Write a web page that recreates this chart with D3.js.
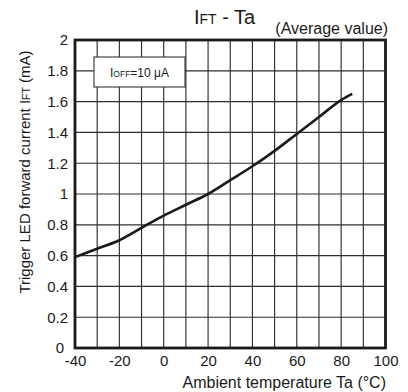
<!DOCTYPE html>
<html>
<head>
<meta charset="utf-8">
<script src="https://cdn.jsdelivr.net/npm/d3@7"></script>
<style>
  html, body { margin: 0; padding: 0; background: #fff; }
  svg { display: block; }
  text { font-family: "Liberation Sans", Arial, sans-serif; fill: #1a1a1a; }
</style>
</head>
<body>
<svg id="chart" width="408" height="392"></svg>
<script>
// Ambient temperature (°C) and average trigger LED forward current (mA)
const temperatures = [-40, -30, -20, -10, 0, 10, 20, 30, 40, 50, 60, 70, 80, 85];
const currents     = [0.59, 0.645, 0.70, 0.78, 0.86, 0.93, 1.0, 1.09, 1.18, 1.28, 1.39, 1.50, 1.61, 1.65];

const xTicks = [-40, -20, 0, 20, 40, 60, 80, 100];
const yTicks = [0, 0.2, 0.4, 0.6, 0.8, 1, 1.2, 1.4, 1.6, 1.8, 2];
const xGrid = d3.range(-40, 101, 10);
const yGrid = d3.range(0, 2.01, 0.2);

const svg = d3.select("#chart");
const plot = { left: 75, right: 385.5, top: 40, bottom: 348 };

const x = d3.scaleLinear().domain([-40, 100]).range([plot.left, plot.right]);
const y = d3.scaleLinear().domain([0, 2]).range([plot.bottom, plot.top]);

// grid
const grid = svg.append("g").attr("stroke", "#2e2e2e").attr("stroke-width", 1.15);
grid.selectAll("line.v").data(xGrid).join("line")
  .attr("x1", d => x(d)).attr("x2", d => x(d))
  .attr("y1", plot.top).attr("y2", plot.bottom);
grid.selectAll("line.h").data(yGrid).join("line")
  .attr("x1", plot.left).attr("x2", plot.right)
  .attr("y1", d => y(d)).attr("y2", d => y(d));

// condition box
const box = svg.append("g");
box.append("rect")
  .attr("x", 94).attr("y", 57).attr("width", 91).attr("height", 30)
  .attr("fill", "#fff").attr("stroke", "#333").attr("stroke-width", 1.1);
const boxText = box.append("text")
  .attr("x", 139.5).attr("y", 77).attr("text-anchor", "middle")
  .attr("font-size", 12);
boxText.append("tspan").text("I");
boxText.append("tspan").attr("font-size", 8.5).text("OFF");
boxText.append("tspan").text("=10 μA");

// curve
const line = d3.line().x((d, i) => x(temperatures[i])).y(d => y(d)).curve(d3.curveMonotoneX);
svg.append("path")
  .datum(currents)
  .attr("d", line)
  .attr("fill", "none")
  .attr("stroke", "#1a1a1a")
  .attr("stroke-width", 2.6);

// frame
svg.append("rect")
  .attr("x", plot.left).attr("y", plot.top)
  .attr("width", plot.right - plot.left).attr("height", plot.bottom - plot.top)
  .attr("fill", "none").attr("stroke", "#1a1a1a").attr("stroke-width", 2.8);

// axes (labels only; frame and grid are drawn above)
const xAxis = svg.append("g")
  .attr("transform", `translate(0,${plot.bottom})`)
  .call(d3.axisBottom(x).tickValues(xTicks).tickSize(0).tickPadding(7.5).tickFormat(d => String(d)));
xAxis.select(".domain").remove();
xAxis.selectAll("text").attr("font-size", 15).attr("fill", "#1a1a1a")
  .style("font-family", "'Liberation Sans', Arial, sans-serif");

const yAxis = svg.append("g")
  .attr("transform", `translate(${plot.left},0)`)
  .call(d3.axisLeft(y).tickValues(yTicks).tickSize(0).tickPadding(7).tickFormat(d => String(+d.toFixed(1))));
yAxis.select(".domain").remove();
yAxis.selectAll("text").attr("font-size", 15).attr("fill", "#1a1a1a")
  .style("font-family", "'Liberation Sans', Arial, sans-serif");
// the zero label sits a little further left, clear of the first x label
yAxis.selectAll("text").filter(d => d === 0).attr("x", -11);

// title
const title = svg.append("text").attr("x", 194).attr("y", 24).attr("font-size", 20);
title.append("tspan").text("I");
title.append("tspan").attr("font-size", 14).text("FT");
title.append("tspan").text(" - Ta");

svg.append("text")
  .attr("x", 388).attr("y", 34).attr("text-anchor", "end")
  .attr("font-size", 16).text("(Average value)");

// axis titles
svg.append("text")
  .attr("x", 386).attr("y", 388).attr("text-anchor", "end")
  .attr("font-size", 16).text("Ambient temperature Ta (°C)");

const yLabel = svg.append("text")
  .attr("transform", "translate(29.5,172) rotate(-90)")
  .attr("text-anchor", "middle")
  .attr("font-size", 15);
yLabel.append("tspan").text("Trigger LED forward current I");
yLabel.append("tspan").attr("font-size", 10.5).text("FT");
yLabel.append("tspan").text(" (mA)");
</script>
</body>
</html>
